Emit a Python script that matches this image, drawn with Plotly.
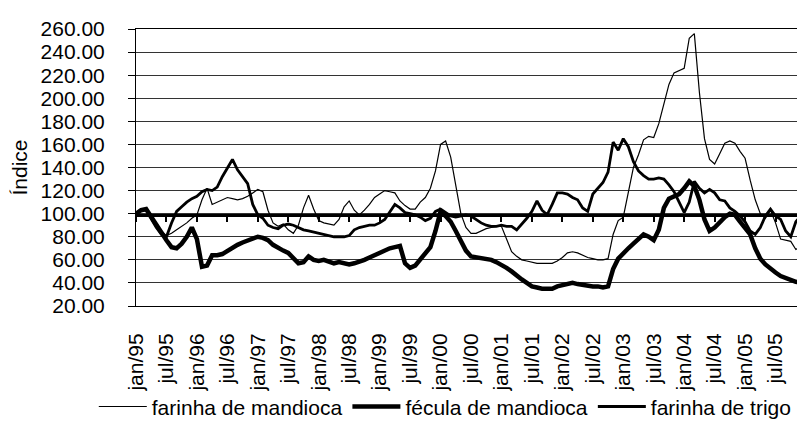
import plotly.graph_objects as go

# monthly index values, jan/95 .. jan/06
farinha_mandioca = [
    100, 102, 103, 98, 92, 85, 81, 83, 86, 89,
    92, 96, 99, 112, 122, 108, 110, 112, 114, 113,
    112, 113, 115, 118, 121, 119, 103, 92, 89, 91,
    86, 83, 90, 105, 116, 104, 94, 92, 91, 90,
    95, 106, 111, 103, 99, 103, 108, 114, 117, 120,
    119, 118, 111, 107, 104, 104, 110, 114, 122, 137,
    160, 163, 149, 125, 100, 88, 83, 83, 85, 87,
    88, 89, 89, 78, 67, 63, 60, 59, 58, 57,
    57, 57, 57, 59, 62, 66, 67, 66, 64, 62,
    61, 60, 60, 61, 82, 94, 97, 118, 140, 151,
    164, 167, 166, 178, 195, 212, 222, 224, 226, 252,
    256, 205, 165, 147, 143, 152, 161, 163, 161, 154,
    148, 129, 112, 100, 96, 103, 92, 78, 77, 76,
    69, 72, 77,
]

fecula_mandioca = [
    100, 103, 104, 97, 90, 83, 77, 71, 70, 74,
    80, 88, 78, 54, 55, 64, 64, 65, 68, 70,
    73, 75, 77, 79, 80, 79, 77, 73, 70, 68,
    66, 62, 57, 58, 63, 60, 59, 60, 58, 57,
    58, 57, 56, 57, 58, 60, 62, 64, 67, 68,
    70, 71, 72, 57, 53, 55, 60, 65, 71, 85,
    102, 98, 93, 85, 77, 68, 63, 62, 61, 61,
    60, 58, 56, 53, 50, 46, 43, 40, 37, 36,
    35, 35, 35, 37, 38, 39, 40, 39, 38, 38,
    37, 37, 36, 37, 52, 61, 66, 70, 74, 78,
    82, 80, 77, 86, 105, 113, 115, 117, 122, 128,
    124, 112, 95, 85, 88, 93, 97, 100, 99, 93,
    88, 82, 70, 61, 56, 52, 49, 46, 44, 42,
    41, 40, 40,
]

farinha_trigo = [
    100, 103, 103, 95, 88, 82, 80, 92, 102, 106,
    110, 113, 115, 119, 121, 120, 123, 132, 140, 147,
    138, 132, 126, 108, 99, 96, 90, 88, 87, 90,
    91, 90, 88, 86, 85, 84, 83, 82, 81, 80,
    80, 80, 81, 86, 88, 89, 90, 90, 92, 95,
    102, 108, 105, 101, 100, 99, 97, 94, 96, 102,
    104, 101, 98, 97, 98, 99, 98, 95, 92, 90,
    89, 89, 90, 89, 89, 86, 91, 96, 102, 111,
    103, 99, 108, 118, 118, 117, 114, 112, 105, 102,
    117, 122, 127, 136, 162, 155, 165, 158, 145, 137,
    133, 130, 130, 131, 130, 125, 119, 110, 101, 110,
    128, 122, 118, 121, 118, 112, 111, 105, 102, 98,
    93, 85, 82, 88, 98, 104, 98, 95, 85, 80,
    93, 98, 99,
]

tick_labels = [
    "jan/95", "jul/95", "jan/96", "jul/96", "jan/97", "jul/97",
    "jan/98", "jul/98", "jan/99", "jul/99", "jan/00", "jul/00",
    "jan/01", "jul/01", "jan/02", "jul/02", "jan/03", "jul/03",
    "jan/04", "jul/04", "jan/05", "jul/05",
]

series_names = ["farinha de mandioca", "fécula de mandioca", "farinha de trigo"]
y_min, y_max, y_step = 20, 260, 20
base_level = 100

months = list(range(len(farinha_mandioca)))
tick_pos = [6 * i for i in range(len(tick_labels))]
x_range = [months[0], months[-1]]
cross = (base_level - y_min) / (y_max - y_min)

FONT = "Liberation Sans, Arial, sans-serif"

fig = go.Figure()
fig.add_trace(go.Scatter(x=months, y=farinha_mandioca, name=series_names[0],
                         mode="lines", line=dict(color="black", width=1.2)))
fig.add_trace(go.Scatter(x=months, y=fecula_mandioca, name=series_names[1],
                         mode="lines", line=dict(color="black", width=4.5)))
fig.add_trace(go.Scatter(x=months, y=farinha_trigo, name=series_names[2],
                         mode="lines", line=dict(color="black", width=2.8)))
# invisible trace registering the horizontal axis that crosses at 100
fig.add_trace(go.Scatter(x=x_range, y=[base_level, base_level],
                         xaxis="x2", yaxis="y2",
                         mode="lines", line=dict(width=0), showlegend=False,
                         hoverinfo="skip"))

fig.update_layout(
    width=805, height=426,
    margin=dict(l=128, r=7, t=21, b=113),
    paper_bgcolor="white", plot_bgcolor="rgba(0,0,0,0)",
    font=dict(family=FONT, size=21, color="black"),
    showlegend=True,
    legend=dict(orientation="h", x=-0.063, xanchor="left", y=-0.364,
                yanchor="middle", font=dict(size=21), itemwidth=48,
                tracegroupgap=0, bgcolor="rgba(0,0,0,0)"),
    xaxis=dict(range=x_range, tickmode="array", tickvals=tick_pos,
               ticktext=tick_labels, tickangle=-90, ticks="",
               ticklabelstandoff=18,
               showgrid=False, zeroline=False, showline=True,
               linecolor="black", linewidth=1, mirror=True,
               tickfont=dict(size=21)),
    xaxis2=dict(range=x_range, anchor="y2", side="bottom",
                tickmode="array", tickvals=tick_pos, ticks="outside",
                ticklen=5, tickwidth=2, tickcolor="black",
                showticklabels=False, showgrid=False, zeroline=False,
                showline=True, linecolor="black", linewidth=3),
    yaxis=dict(range=[y_min, y_max], tick0=y_min, dtick=y_step,
               tickformat=".2f", ticks="outside", ticklen=7,
               tickcolor="black", ticklabelstandoff=19,
               showgrid=True, gridcolor="#333333", gridwidth=1,
               zeroline=False, showline=True, linecolor="black",
               linewidth=1, mirror=True,
               title=dict(text="Índice", font=dict(size=21), standoff=9),
               tickfont=dict(size=21)),
    yaxis2=dict(domain=[cross, 1], range=[base_level, y_max],
                showticklabels=False, showline=False, showgrid=False,
                zeroline=False, ticks="", fixedrange=True),
)

fig.write_html("out.html")
